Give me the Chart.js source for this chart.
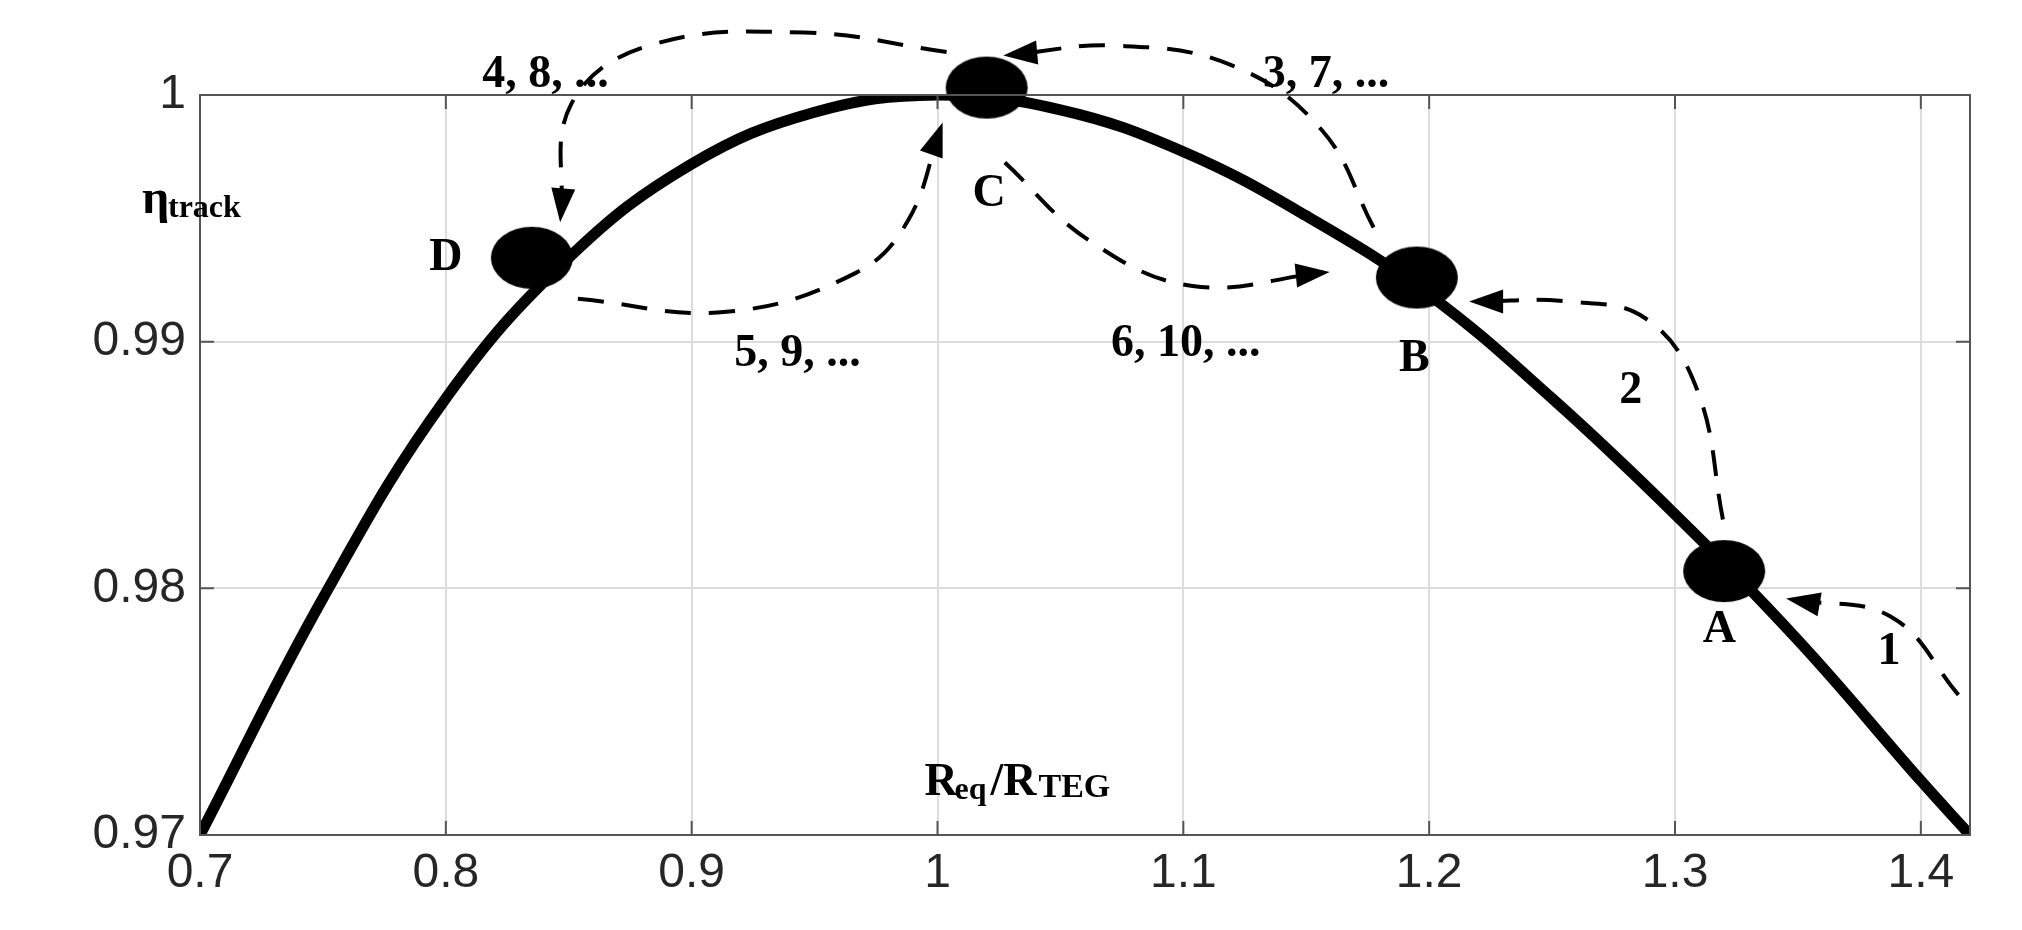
<!DOCTYPE html>
<html>
<head>
<meta charset="utf-8">
<script src="https://cdn.jsdelivr.net/npm/chart.js@4.4.1/dist/chart.umd.min.js"></script>
<style>
  html, body { margin: 0; padding: 0; background: #fff; }
  #wrap { width: 2022px; height: 930px; }
</style>
</head>
<body>
<div id="wrap"><canvas id="grafico"></canvas></div>
<script>
// curva
const razaoR = [0.70, 0.75, 0.80, 0.85, 0.90, 0.95, 1.00, 1.05, 1.10, 1.15, 1.20, 1.25, 1.30, 1.35, 1.40, 1.42];
const etaTrack = [0.970, 0.9796, 0.9877, 0.9934, 0.9972, 0.9993, 1.000, 0.9994, 0.9977, 0.9951, 0.9919, 0.9877, 0.9830, 0.9779, 0.9722, 0.970];

// pontos de operação A, B, C, D
const pontosX = [1.320, 1.195, 1.020, 0.835];
const pontosY = [0.9807, 0.9926, 1.0003, 0.9934];
const pontosNome = ['A', 'B', 'C', 'D'];
const pontosNomeX = [1.318, 1.194, 1.021, 0.800];
const pontosNomeY = [0.9783, 0.9893, 0.9960, 0.9934];

// setas tracejadas (a última posição é a ponta da seta)
const seta1X = [1.4153, 1.388, 1.3484];
const seta1Y = [0.97568, 0.97884, 0.97953];
const seta2X = [1.3195, 1.309, 1.2879, 1.2563, 1.2195];
const seta2Y = [0.98279, 0.98805, 0.99095, 0.99163, 0.99163];
const seta3X = [1.1774, 1.1563, 1.1195, 1.0721, 1.030];
const seta3Y = [0.99463, 0.99858, 1.00121, 1.0020, 1.00163];
const seta4X = [1.0037, 0.9458, 0.8826, 0.851, 0.8468];
const seta4Y = [1.00174, 1.00253, 1.0020, 0.99963, 0.99516];
const seta5X = [0.8537, 0.9142, 0.9668, 0.9879, 1.001];
const seta5Y = [0.99174, 0.99121, 0.99279, 0.99489, 0.99858];
const seta6X = [1.0274, 1.0616, 1.1037, 1.1563];
const seta6Y = [0.99726, 0.99411, 0.99226, 0.99279];

// rótulos das setas
const rotulos = ['4, 8, ...', '3, 7, ...', '5, 9, ...', '6, 10, ...', '2', '1'];
const rotulosX = [0.8405, 1.158, 0.943, 1.101, 1.282, 1.387];
const rotulosY = [1.0008, 1.0008, 0.9895, 0.9899, 0.9880, 0.9774];

const ticksX = [0.7, 0.8, 0.9, 1.0, 1.1, 1.2, 1.3, 1.4];
const ticksY = [0.97, 0.98, 0.99, 1.0];

function juntar(xs, ys) { return xs.map((x, i) => ({ x: x, y: ys[i] })); }

// marcador elíptico
const elipse = document.createElement('canvas');
elipse.width = 84; elipse.height = 64;
(function () {
    const c = elipse.getContext('2d');
    c.fillStyle = '#000';
    c.beginPath();
    c.ellipse(42, 32, 41, 31, 0, 0, Math.PI * 2);
    c.fill();
})();

const setas = [[seta1X, seta1Y], [seta2X, seta2Y], [seta3X, seta3Y], [seta4X, seta4Y], [seta5X, seta5Y], [seta6X, seta6Y]];

const datasets = [{
    data: juntar(razaoR, etaTrack),
    borderColor: '#000', borderWidth: 11, pointRadius: 0, tension: 0.4
}];
setas.forEach(s => datasets.push({
    data: juntar(s[0], s[1]), seta: true, clip: false,
    borderColor: '#000', borderWidth: 4, borderDash: [26, 18], pointRadius: 0, tension: 0.4
}));
datasets.push({
    data: juntar(pontosX, pontosY), showLine: false, clip: false,
    pointStyle: elipse, pointRadius: 40, backgroundColor: '#000', borderColor: '#000'
});

const extras = {
    id: 'extras',
    afterDatasetsDraw(chart) {
        const g = chart.ctx, sx = chart.scales.x, sy = chart.scales.y, a = chart.chartArea;
        g.save();
        // caixa
        g.strokeStyle = '#555'; g.lineWidth = 2;
        g.strokeRect(a.left, a.top, a.right - a.left, a.bottom - a.top);
        // marcas interiores
        ticksX.forEach(t => {
            const px = sx.getPixelForValue(t);
            g.beginPath(); g.moveTo(px, a.bottom); g.lineTo(px, a.bottom - 14);
            g.moveTo(px, a.top); g.lineTo(px, a.top + 14); g.stroke();
        });
        ticksY.forEach(t => {
            const py = sy.getPixelForValue(t);
            g.beginPath(); g.moveTo(a.left, py); g.lineTo(a.left + 14, py);
            g.moveTo(a.right, py); g.lineTo(a.right - 14, py); g.stroke();
        });
        // pontas das setas
        g.fillStyle = '#000';
        chart.data.datasets.forEach((d, i) => {
            if (!d.seta) return;
            const pts = chart.getDatasetMeta(i).data;
            const p = pts[pts.length - 1], q = pts[pts.length - 2];
            const ang = Math.atan2(p.y - q.y, p.x - q.x);
            g.save(); g.translate(p.x, p.y); g.rotate(ang);
            g.beginPath(); g.moveTo(8, 0); g.lineTo(-26, -12); g.lineTo(-26, 12); g.closePath(); g.fill();
            g.restore();
        });
        // textos
        g.font = 'bold 46px "Liberation Serif", serif';
        g.textAlign = 'center'; g.textBaseline = 'middle';
        pontosNome.forEach((n, i) => g.fillText(n, sx.getPixelForValue(pontosNomeX[i]), sy.getPixelForValue(pontosNomeY[i])));
        rotulos.forEach((r, i) => g.fillText(r, sx.getPixelForValue(rotulosX[i]), sy.getPixelForValue(rotulosY[i])));
        // eixo x
        const xl = sx.getPixelForValue(1.037), yl = sy.getPixelForValue(0.9721);
        g.textAlign = 'left';
        g.fillText('R', xl - 104, yl);
        g.font = 'bold 32px "Liberation Serif", serif'; g.fillText('eq', xl - 74, yl + 8);
        g.font = 'bold 46px "Liberation Serif", serif'; g.fillText('/R', xl - 38, yl);
        g.font = 'bold 34px "Liberation Serif", serif'; g.fillText('TEG', xl + 10, yl + 5);
        // eixo y
        const yx = 142, yy = sy.getPixelForValue(0.9957);
        g.font = 'bold 48px "Liberation Serif", serif'; g.fillText('\u03B7', yx, yy);
        g.font = 'bold 32px "Liberation Serif", serif'; g.fillText('track', yx + 26, yy + 8);
        g.restore();
    }
};

new Chart(document.getElementById('grafico'), {
    type: 'line',
    data: { datasets: datasets },
    options: {
        responsive: true, maintainAspectRatio: false, animation: false,
        layout: { padding: { top: 95, right: 52, left: 0, bottom: 0 } },
        plugins: { legend: { display: false }, tooltip: { enabled: false } },
        scales: {
            x: {
                type: 'linear', min: 0.7, max: 1.42,
                afterBuildTicks: s => { s.ticks = ticksX.map(v => ({ value: v })); },
                afterFit: s => { s.height = 95; },
                grid: { color: '#dcdcdc', lineWidth: 2, drawTicks: false },
                border: { display: false },
                ticks: { color: '#262626', font: { family: 'Liberation Sans', size: 48 }, padding: 10,
                    callback: v => String(Math.round(v * 10) / 10) }
            },
            y: {
                min: 0.97, max: 1.0,
                afterBuildTicks: s => { s.ticks = ticksY.map(v => ({ value: v })); },
                afterFit: s => { s.width = 200; },
                grid: { color: '#dcdcdc', lineWidth: 2, drawTicks: false },
                border: { display: false },
                ticks: { color: '#262626', font: { family: 'Liberation Sans', size: 48 }, padding: 14,
                    callback: v => (v === 1 ? '1' : v.toFixed(2)) }
            }
        }
    },
    plugins: [extras]
});
</script>
</body>
</html>
